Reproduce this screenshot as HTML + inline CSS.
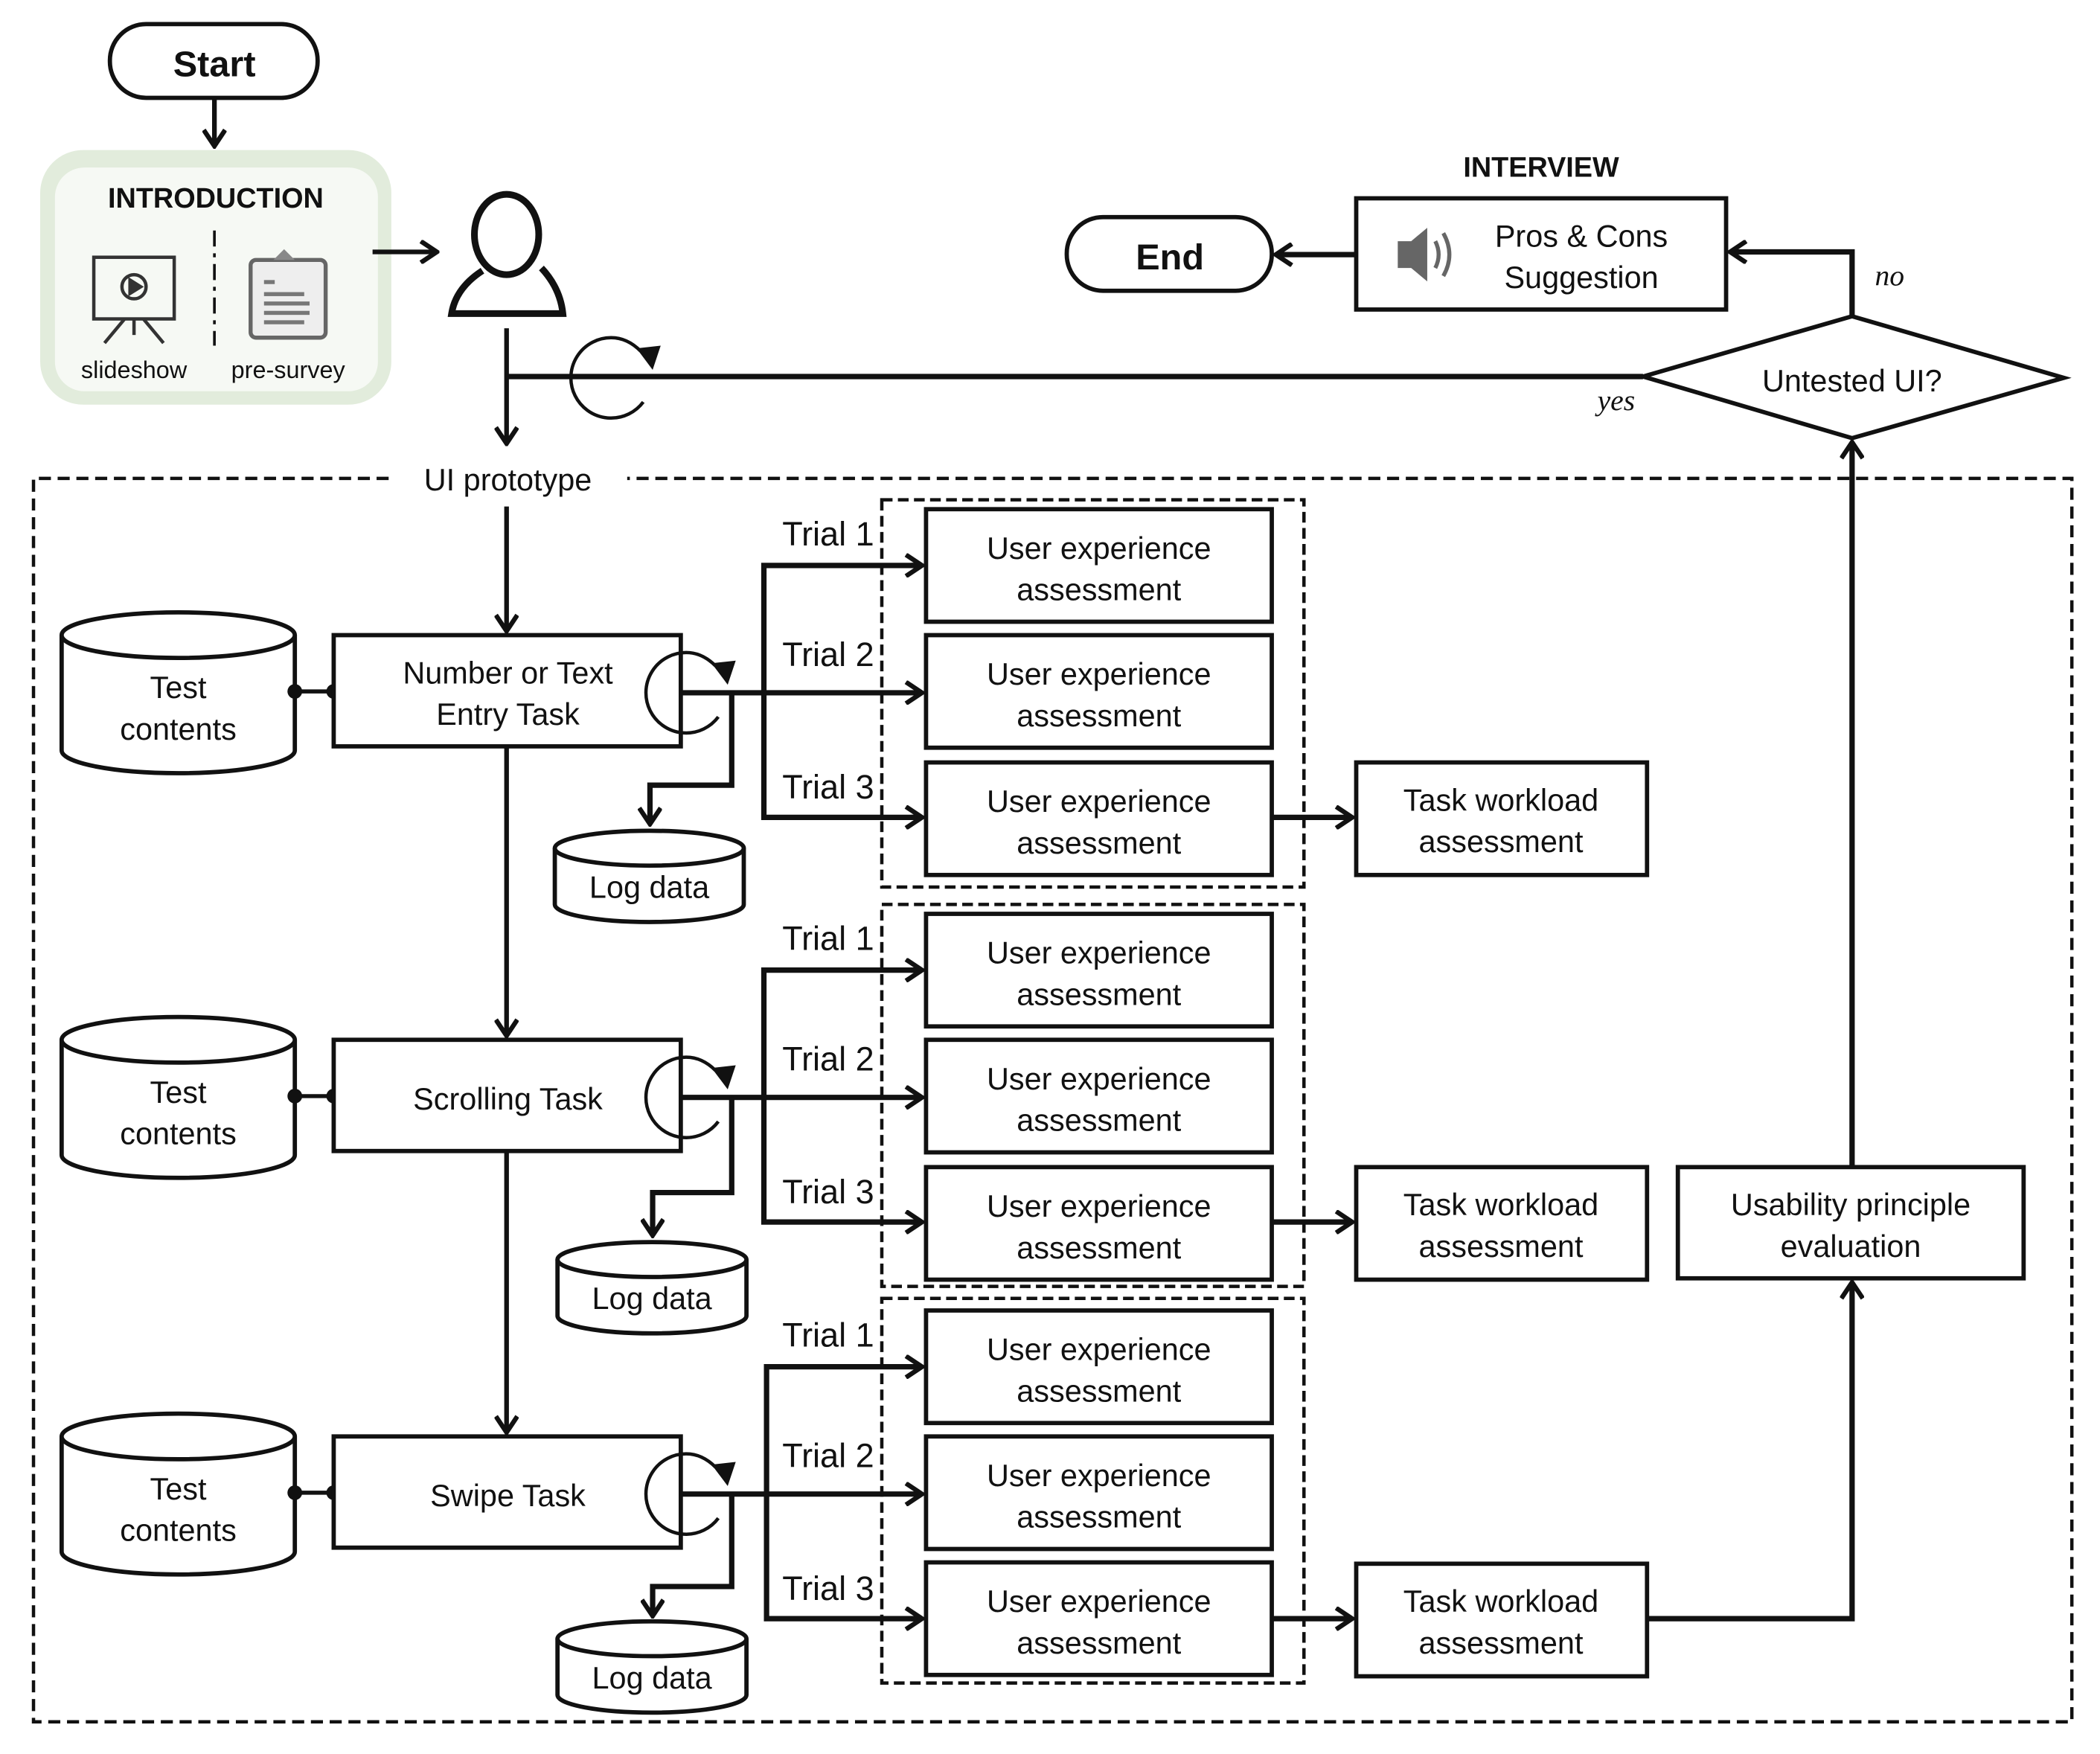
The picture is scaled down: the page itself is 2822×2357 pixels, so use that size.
<!DOCTYPE html>
<html><head><meta charset="utf-8"><style>
html,body{margin:0;padding:0;background:#fff}
svg{display:block}
text{font-family:"Liberation Sans Narrow","Liberation Sans",sans-serif;fill:#111}
</style></head><body>
<svg width="2822" height="2357" viewBox="0 0 1567 1309" preserveAspectRatio="none" xmlns="http://www.w3.org/2000/svg">
<defs>
<marker id="a" markerWidth="16" markerHeight="18" refX="14" refY="9" orient="auto" markerUnits="userSpaceOnUse">
<path d="M2,1 L14,9 L2,17" fill="none" stroke="#111" stroke-width="3.5"/>
</marker>
<g id="ux"><rect x="0" y="0" width="258" height="84" fill="#fff" stroke="#111" stroke-width="3.2"/>
<text x="129" y="37" font-size="23" text-anchor="middle">User experience</text>
<text x="129" y="68" font-size="23" text-anchor="middle">assessment</text></g>
<g id="cyl"><path d="M46,17 V103 A87,17 0 0 0 220,103 V17" fill="#fff" stroke="#111" stroke-width="3.2"/>
<ellipse cx="133" cy="17" rx="87" ry="17" fill="#fff" stroke="#111" stroke-width="3.2"/>
<text x="133" y="64" font-size="23" text-anchor="middle">Test</text>
<text x="133" y="95" font-size="23" text-anchor="middle">contents</text></g>
<g id="log"><path d="M0,13 V55 A70,13 0 0 0 141,55 V13" fill="#fff" stroke="#111" stroke-width="3.2"/>
<ellipse cx="70.5" cy="13" rx="70.5" ry="13" fill="#fff" stroke="#111" stroke-width="3.2"/>
<text x="70.5" y="50" font-size="23" text-anchor="middle">Log data</text></g>
<g id="loop"><path d="M22,-20 Q12,-30 0,-30 A30,30 0 1 0 24,18" fill="none" stroke="#111" stroke-width="2.5"/>
<path d="M19,-22 L37,-24 L31,-6 Z" fill="#111"/></g>
</defs>
<!-- Start -->
<rect x="82" y="18" width="155" height="55" rx="27" fill="#fff" stroke="#111" stroke-width="3.2"/>
<text x="160" y="57" font-size="27" font-weight="bold" text-anchor="middle">Start</text>
<line x1="160" y1="73" x2="160" y2="109" stroke="#111" stroke-width="3.5" marker-end="url(#a)"/>
<!-- intro -->
<rect x="30" y="112" width="262" height="190" rx="32" fill="#e2ecdc"/>
<rect x="41" y="125" width="241" height="167" rx="22" fill="#f6f9f4"/>
<text x="161" y="155" font-size="21" font-weight="bold" text-anchor="middle" style="font-family:'Liberation Sans',sans-serif">INTRODUCTION</text>
<line x1="160" y1="172" x2="160" y2="258" stroke="#111" stroke-width="2" stroke-dasharray="12,5,3,5"/>
<g stroke="#333" stroke-width="2.5" fill="none">
<rect x="70" y="192" width="60" height="46"/><circle cx="100" cy="214" r="9"/>
<path d="M97,209 L105,214 L97,219 Z" fill="#333"/>
<line x1="100" y1="238" x2="100" y2="250"/><line x1="93" y1="238" x2="78" y2="256"/><line x1="107" y1="238" x2="122" y2="256"/>
</g>
<rect x="187" y="194" width="56" height="58" rx="4" fill="#eee" stroke="#666" stroke-width="3"/>
<path d="M204,194 L212,186 L220,194 Z" fill="#888"/>
<rect x="197" y="209" width="8" height="3" fill="#777"/>
<rect x="197" y="218" width="30" height="3" fill="#777"/>
<rect x="197" y="225" width="34" height="3" fill="#777"/>
<rect x="197" y="232" width="34" height="3" fill="#777"/>
<rect x="197" y="239" width="30" height="3" fill="#777"/>
<text x="100" y="282" font-size="18" text-anchor="middle" style="font-family:'Liberation Sans',sans-serif">slideshow</text>
<text x="215" y="282" font-size="18" text-anchor="middle" style="font-family:'Liberation Sans',sans-serif">pre-survey</text>
<line x1="278" y1="188" x2="326" y2="188" stroke="#111" stroke-width="3.5" marker-end="url(#a)"/>
<!-- person -->
<ellipse cx="378" cy="175" rx="24" ry="30" fill="none" stroke="#111" stroke-width="5"/>
<path d="M360,202 Q340,215 337,234 L420,234 Q418,215 404,200" fill="none" stroke="#111" stroke-width="5"/>
<line x1="378" y1="245" x2="378" y2="331" stroke="#111" stroke-width="3.5" marker-end="url(#a)"/>
<line x1="378" y1="281" x2="1226" y2="281" stroke="#111" stroke-width="4"/>
<use href="#loop" x="456" y="282"/>
<!-- outer dashed -->
<path d="M290,357 H25 V1285 H1546 V357 H468" fill="none" stroke="#111" stroke-width="2.5" stroke-dasharray="9,5"/>
<text x="379" y="366" font-size="23" text-anchor="middle">UI prototype</text>
<line x1="378" y1="378" x2="378" y2="471" stroke="#111" stroke-width="3.5" marker-end="url(#a)"/>
<line x1="378" y1="557" x2="378" y2="773" stroke="#111" stroke-width="3.5" marker-end="url(#a)"/>
<line x1="378" y1="859" x2="378" y2="1069" stroke="#111" stroke-width="3.5" marker-end="url(#a)"/>
<!-- interview -->
<text x="1150" y="132" font-size="21" font-weight="bold" text-anchor="middle" style="font-family:'Liberation Sans',sans-serif">INTERVIEW</text>
<rect x="1012" y="148" width="276" height="83" fill="#fff" stroke="#111" stroke-width="3.2"/>
<path d="M1043,180 H1053 L1065,170 V210 L1053,200 H1043 Z" fill="#666"/>
<path d="M1071,180 Q1076,190 1071,200 M1077,174 Q1086,190 1077,206" fill="none" stroke="#666" stroke-width="3"/>
<text x="1180" y="184" font-size="23" text-anchor="middle">Pros &amp; Cons</text>
<text x="1180" y="215" font-size="23" text-anchor="middle">Suggestion</text>
<line x1="1012" y1="190" x2="952" y2="190" stroke="#111" stroke-width="4" marker-end="url(#a)"/>
<rect x="796" y="162" width="153" height="55" rx="27" fill="#fff" stroke="#111" stroke-width="3.2"/>
<text x="873" y="201" font-size="27" font-weight="bold" text-anchor="middle">End</text>
<path d="M1382,236 V188 H1291" fill="none" stroke="#111" stroke-width="4" marker-end="url(#a)"/>
<text x="1410" y="213" font-size="22" font-style="italic" text-anchor="middle" style="font-family:'Liberation Serif',serif">no</text>
<text x="1206" y="306" font-size="22" font-style="italic" text-anchor="middle" style="font-family:'Liberation Serif',serif">yes</text>
<path d="M1226,281 L1382,236 L1540,282 L1382,327 Z" fill="#fff" stroke="#111" stroke-width="3.2"/>
<text x="1382" y="292" font-size="23" text-anchor="middle">Untested UI?</text>
<line x1="1382" y1="871" x2="1382" y2="330" stroke="#111" stroke-width="4" marker-end="url(#a)"/>
<rect x="1252" y="871" width="258" height="83" fill="#fff" stroke="#111" stroke-width="3.2"/>
<text x="1381" y="907" font-size="23" text-anchor="middle">Usability principle</text>
<text x="1381" y="938" font-size="23" text-anchor="middle">evaluation</text>
<path d="M1229,1208 H1382 V957" fill="none" stroke="#111" stroke-width="4" marker-end="url(#a)"/>
<!-- row 1 -->
<g>
<use href="#cyl" y="457"/>
<line x1="220" y1="516" x2="249" y2="516" stroke="#111" stroke-width="3"/>
<circle cx="220" cy="516" r="5.5" fill="#111"/><circle cx="249" cy="516" r="5.5" fill="#111"/>
<rect x="249" y="474" width="259" height="83" fill="#fff" stroke="#111" stroke-width="3.2"/>
<text x="379" y="510" font-size="23" text-anchor="middle">Number or Text</text>
<text x="379" y="541" font-size="23" text-anchor="middle">Entry Task</text>
<use href="#loop" x="512" y="517"/>
<line x1="508" y1="517" x2="688" y2="517" stroke="#111" stroke-width="4" marker-end="url(#a)"/>
<path d="M688,422 H570 V610 H688" fill="none" stroke="#111" stroke-width="4"/>
<line x1="680" y1="422" x2="688" y2="422" stroke="#111" stroke-width="4" marker-end="url(#a)"/>
<line x1="680" y1="610" x2="688" y2="610" stroke="#111" stroke-width="4" marker-end="url(#a)"/>
<path d="M546,517 V586 H485 V615" fill="none" stroke="#111" stroke-width="4" marker-end="url(#a)"/>
<use href="#log" x="414" y="620"/>
<rect x="658" y="373" width="315" height="289" fill="none" stroke="#111" stroke-width="2.5" stroke-dasharray="8,4"/>
<use href="#ux" x="691" y="380"/><use href="#ux" x="691" y="474"/><use href="#ux" x="691" y="569"/>
<text x="618" y="407" font-size="25" text-anchor="middle">Trial 1</text>
<text x="618" y="497" font-size="25" text-anchor="middle">Trial 2</text>
<text x="618" y="596" font-size="25" text-anchor="middle">Trial 3</text>
<line x1="949" y1="610" x2="1009" y2="610" stroke="#111" stroke-width="4" marker-end="url(#a)"/>
<rect x="1012" y="569" width="217" height="84" fill="#fff" stroke="#111" stroke-width="3.2"/>
<text x="1120" y="605" font-size="23" text-anchor="middle">Task workload</text>
<text x="1120" y="636" font-size="23" text-anchor="middle">assessment</text>
</g>
<g transform="translate(0,302)">
<use href="#cyl" y="457"/>
<line x1="220" y1="516" x2="249" y2="516" stroke="#111" stroke-width="3"/>
<circle cx="220" cy="516" r="5.5" fill="#111"/><circle cx="249" cy="516" r="5.5" fill="#111"/>
<rect x="249" y="474" width="259" height="83" fill="#fff" stroke="#111" stroke-width="3.2"/>
<text x="379" y="526" font-size="23" text-anchor="middle">Scrolling Task</text>
<use href="#loop" x="512" y="517"/>
<line x1="508" y1="517" x2="688" y2="517" stroke="#111" stroke-width="4" marker-end="url(#a)"/>
<path d="M688,422 H570 V610 H688" fill="none" stroke="#111" stroke-width="4"/>
<line x1="680" y1="422" x2="688" y2="422" stroke="#111" stroke-width="4" marker-end="url(#a)"/>
<line x1="680" y1="610" x2="688" y2="610" stroke="#111" stroke-width="4" marker-end="url(#a)"/>
<path d="M546,517 V588 H487 V620" fill="none" stroke="#111" stroke-width="4" marker-end="url(#a)"/>
<use href="#log" x="416" y="625"/>
<rect x="658" y="373" width="315" height="285" fill="none" stroke="#111" stroke-width="2.5" stroke-dasharray="8,4"/>
<use href="#ux" x="691" y="380"/><use href="#ux" x="691" y="474"/><use href="#ux" x="691" y="569"/>
<text x="618" y="407" font-size="25" text-anchor="middle">Trial 1</text>
<text x="618" y="497" font-size="25" text-anchor="middle">Trial 2</text>
<text x="618" y="596" font-size="25" text-anchor="middle">Trial 3</text>
<line x1="949" y1="610" x2="1009" y2="610" stroke="#111" stroke-width="4" marker-end="url(#a)"/>
<rect x="1012" y="569" width="217" height="84" fill="#fff" stroke="#111" stroke-width="3.2"/>
<text x="1120" y="605" font-size="23" text-anchor="middle">Task workload</text>
<text x="1120" y="636" font-size="23" text-anchor="middle">assessment</text>
</g>
<g transform="translate(0,598)">
<use href="#cyl" y="457"/>
<line x1="220" y1="516" x2="249" y2="516" stroke="#111" stroke-width="3"/>
<circle cx="220" cy="516" r="5.5" fill="#111"/><circle cx="249" cy="516" r="5.5" fill="#111"/>
<rect x="249" y="474" width="259" height="83" fill="#fff" stroke="#111" stroke-width="3.2"/>
<text x="379" y="526" font-size="23" text-anchor="middle">Swipe Task</text>
<use href="#loop" x="512" y="517"/>
<line x1="508" y1="517" x2="688" y2="517" stroke="#111" stroke-width="4" marker-end="url(#a)"/>
<path d="M688,422 H572 V610 H688" fill="none" stroke="#111" stroke-width="4"/>
<line x1="680" y1="422" x2="688" y2="422" stroke="#111" stroke-width="4" marker-end="url(#a)"/>
<line x1="680" y1="610" x2="688" y2="610" stroke="#111" stroke-width="4" marker-end="url(#a)"/>
<path d="M546,517 V586 H487 V608" fill="none" stroke="#111" stroke-width="4" marker-end="url(#a)"/>
<use href="#log" x="416" y="612"/>
<rect x="658" y="371" width="315" height="287" fill="none" stroke="#111" stroke-width="2.5" stroke-dasharray="8,4"/>
<use href="#ux" x="691" y="380"/><use href="#ux" x="691" y="474"/><use href="#ux" x="691" y="568"/>
<text x="618" y="407" font-size="25" text-anchor="middle">Trial 1</text>
<text x="618" y="497" font-size="25" text-anchor="middle">Trial 2</text>
<text x="618" y="596" font-size="25" text-anchor="middle">Trial 3</text>
<line x1="949" y1="610" x2="1009" y2="610" stroke="#111" stroke-width="4" marker-end="url(#a)"/>
<rect x="1012" y="569" width="217" height="84" fill="#fff" stroke="#111" stroke-width="3.2"/>
<text x="1120" y="605" font-size="23" text-anchor="middle">Task workload</text>
<text x="1120" y="636" font-size="23" text-anchor="middle">assessment</text>
</g>
</svg>
</body></html>
